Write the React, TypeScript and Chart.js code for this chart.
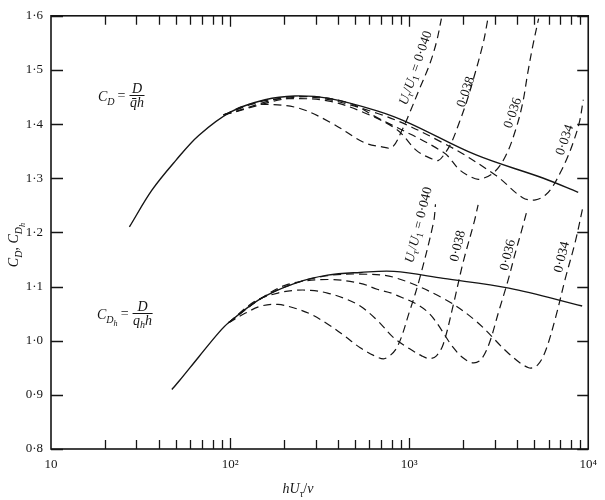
import React, { useEffect, useRef } from 'react';
import { Chart, registerables } from 'chart.js';

Chart.register(...registerables);

const FONT = '"Liberation Serif", "DejaVu Serif", serif';
const INK = '#151515';

// ---------- Upper family: C_D = D / (q̄ h) ----------
const cdX = [27.4, 36.6, 49.8, 66.8, 101.6, 156.7, 229.6, 350, 662, 1000, 2366, 5623, 8790];
const cdY = [1.21, 1.278, 1.333, 1.379, 1.423, 1.445, 1.452, 1.448, 1.4245, 1.402, 1.343, 1.3, 1.274];

const cd040X = [92, 126, 149, 239, 364, 561, 705, 802, 910, 1007, 1145, 1300, 1422, 1514];
const cd040Y = [1.417, 1.436, 1.437, 1.43, 1.403, 1.366, 1.358, 1.357, 1.388, 1.421, 1.466, 1.51, 1.552, 1.595];

const cd038X = [92, 149, 239, 364, 561, 853, 1101, 1334, 1459, 1553, 1722, 1905, 2083, 2275, 2588, 2754];
const cd038Y = [1.417, 1.442, 1.447, 1.442, 1.421, 1.39, 1.351, 1.336, 1.333, 1.342, 1.366, 1.403, 1.439, 1.481, 1.549, 1.595];

const cd036X = [92, 239, 452, 662, 1552, 1905, 2193, 2460, 2979, 3467, 3936, 4305, 4592, 4898, 5284];
const cd036Y = [1.417, 1.45, 1.44, 1.412, 1.348, 1.316, 1.303, 1.298, 1.311, 1.342, 1.39, 1.439, 1.494, 1.544, 1.595];

const cd034X = [92, 239, 662, 1614, 3055, 4305, 5080, 5770, 6310, 7000, 7640, 8240, 8920, 9380];
const cd034Y = [1.417, 1.451, 1.42, 1.362, 1.305, 1.264, 1.26, 1.269, 1.284, 1.311, 1.338, 1.366, 1.403, 1.445];

// ---------- Lower family: C_Dh = D / (q_h h) ----------
const chX = [47.3, 51.8, 66.8, 86, 98, 149, 230, 350, 533, 822, 1552, 3606, 9250];
const chY = [0.91, 0.925, 0.97, 1.014, 1.033, 1.078, 1.106, 1.121, 1.126, 1.128, 1.115, 1.097, 1.064];

const ch040X = [98, 122, 149, 185, 230, 282, 350, 435, 533, 662, 733, 853, 1007, 1145, 1369, 1403];
const ch040Y = [1.033, 1.051, 1.064, 1.067, 1.06, 1.049, 1.031, 1.009, 0.987, 0.97, 0.967, 0.987, 1.055, 1.115, 1.219, 1.252];

const ch038X = [98, 138, 185, 230, 282, 350, 435, 533, 662, 822, 1007, 1175, 1300, 1420, 1552, 1766, 2006, 2306, 2427];
const ch038Y = [1.033, 1.073, 1.088, 1.093, 1.093, 1.088, 1.078, 1.064, 1.038, 1.005, 0.985, 0.972, 0.967, 0.972, 0.994, 1.067, 1.146, 1.219, 1.251];

const ch036X = [98, 149, 210, 350, 533, 662, 822, 1250, 1766, 2006, 2275, 2515, 2793, 3170, 3556, 3936, 4260, 4530];
const ch036Y = [1.033, 1.078, 1.104, 1.113, 1.106, 1.095, 1.086, 1.055, 0.987, 0.968, 0.959, 0.965, 0.994, 1.055, 1.11, 1.165, 1.205, 1.238];

const ch034X = [98, 149, 230, 350, 533, 822, 1552, 2366, 3606, 4645, 5210, 5770, 6560, 7450, 8470, 9380];
const ch034Y = [1.033, 1.078, 1.106, 1.12, 1.123, 1.117, 1.078, 1.036, 0.976, 0.95, 0.955, 0.981, 1.042, 1.115, 1.183, 1.25];

// ---------- Axes ----------
const yTicks = [0.8, 0.9, 1.0, 1.1, 1.2, 1.3, 1.4, 1.5, 1.6];
const xDecades = [10, 100, 1000, 10000];
const xDecadeLabels = ['10', '10²', '10³', '10⁴'];
const xMinorTicks = [
  20, 30, 40, 50, 60, 70, 80, 90, 100,
  200, 300, 400, 500, 600, 700, 800, 900, 1000,
  2000, 3000, 4000, 5000, 6000, 7000, 8000, 9000,
];

const upperLabels = ['0·040', '0·038', '0·036', '0·034'];
const lowerLabels = ['0·040', '0·038', '0·036', '0·034'];

type Seg = { t: string; italic?: boolean; lvl?: number };

function segFont(s: Seg, size: number) {
  const lvl = s.lvl || 0;
  const fs = lvl === 0 ? size : lvl === 1 || lvl === -1 ? size * 0.72 : size * 0.58;
  return `${s.italic ? 'italic ' : ''}${fs}px ${FONT}`;
}

function measureRich(ctx: CanvasRenderingContext2D, segs: Seg[], size: number) {
  let total = 0;
  for (const s of segs) {
    ctx.font = segFont(s, size);
    total += ctx.measureText(s.t).width;
  }
  return total;
}

function drawRich(ctx: CanvasRenderingContext2D, segs: Seg[], x: number, y: number, size: number, align: 'left' | 'center' | 'right' = 'left') {
  const total = measureRich(ctx, segs, size);
  let cx = align === 'center' ? x - total / 2 : align === 'right' ? x - total : x;
  for (const s of segs) {
    const lvl = s.lvl || 0;
    const dy = lvl === 1 ? size * 0.28 : lvl === 2 ? size * 0.48 : lvl === -1 ? -size * 0.4 : 0;
    ctx.font = segFont(s, size);
    ctx.fillText(s.t, cx, y + dy);
    cx += ctx.measureText(s.t).width;
  }
  return total;
}

function drawRotated(ctx: CanvasRenderingContext2D, segs: Seg[], cx: number, cy: number, angleDeg: number, size: number) {
  ctx.save();
  ctx.translate(cx, cy);
  ctx.rotate((angleDeg * Math.PI) / 180);
  ctx.textBaseline = 'middle';
  drawRich(ctx, segs, 0, 0, size, 'center');
  ctx.restore();
}

function drawFormula(ctx: CanvasRenderingContext2D, lhs: Seg[], den: Seg[], x: number, base: number, size: number) {
  const lw = drawRich(ctx, lhs, x, base, size);
  const ex = x + lw + 3;
  const ew = drawRich(ctx, [{ t: '=' }], ex, base - 1, size);
  const bx = ex + ew + 4;
  const by = base - 5.5;
  const num: Seg[] = [{ t: 'D', italic: true }];
  const w = Math.max(measureRich(ctx, num, size), measureRich(ctx, den, size)) + 1;
  drawRich(ctx, num, bx + w / 2, by - 3, size, 'center');
  drawRich(ctx, den, bx + w / 2, by + 11, size, 'center');
  ctx.lineWidth = 1;
  ctx.beginPath();
  ctx.moveTo(bx, by);
  ctx.lineTo(bx + w, by);
  ctx.stroke();
}

const decoPlugin = {
  id: 'deco',
  afterDraw(chart: any) {
    const ctx: CanvasRenderingContext2D = chart.ctx;
    const xs = chart.scales.x;
    const ys = chart.scales.y;
    const { left, right, top, bottom } = chart.chartArea;
    ctx.save();
    ctx.strokeStyle = INK;
    ctx.fillStyle = INK;
    ctx.lineWidth = 1.6;
    ctx.strokeRect(left, top, right - left, bottom - top);
    ctx.lineWidth = 1.3;
    ctx.beginPath();
    for (const v of xMinorTicks) {
      const px = Math.round(xs.getPixelForValue(v)) + 0.5;
      const len = xDecades.includes(v) ? 11 : 9;
      ctx.moveTo(px, bottom);
      ctx.lineTo(px, bottom - len);
      ctx.moveTo(px, top);
      ctx.lineTo(px, top + len);
    }
    for (const v of yTicks) {
      const py = Math.round(ys.getPixelForValue(v)) + 0.5;
      ctx.moveTo(left, py);
      ctx.lineTo(left + 12, py);
      ctx.moveTo(right, py);
      ctx.lineTo(right - 11, py);
    }
    ctx.stroke();

    ctx.textBaseline = 'alphabetic';
    const S = 14;
    drawFormula(ctx, [{ t: 'C', italic: true }, { t: 'D', italic: true, lvl: 1 }], [{ t: 'q\u0304h', italic: true }], 98, 101, S);
    drawFormula(
      ctx,
      [{ t: 'C', italic: true }, { t: 'D', italic: true, lvl: 1 }, { t: 'h', italic: true, lvl: 2 }],
      [{ t: 'q', italic: true }, { t: 'h', italic: true, lvl: 1 }, { t: 'h', italic: true }],
      97, 319, S,
    );

    const uLabel = (v: string): Seg[] => [
      { t: 'U', italic: true }, { t: 'τ', italic: true, lvl: 1 }, { t: '/' },
      { t: 'U', italic: true }, { t: '1', lvl: 1 }, { t: ' = ' + v },
    ];
    const LS = 13.5;
    drawRotated(ctx, uLabel(upperLabels[0]), 416, 68, -71, LS);
    drawRotated(ctx, [{ t: upperLabels[1] }], 466, 92, -71, LS);
    drawRotated(ctx, [{ t: upperLabels[2] }], 513, 113, -71, LS);
    drawRotated(ctx, [{ t: upperLabels[3] }], 565, 140, -71, LS);
    drawRotated(ctx, uLabel(lowerLabels[0]), 419, 225, -76, LS);
    drawRotated(ctx, [{ t: lowerLabels[1] }], 458, 246, -76, LS);
    drawRotated(ctx, [{ t: lowerLabels[2] }], 508, 255, -76, LS);
    drawRotated(ctx, [{ t: lowerLabels[3] }], 562, 257, -76, LS);

    ctx.textBaseline = 'alphabetic';
    drawRich(ctx, [{ t: 'h', italic: true }, { t: 'U', italic: true }, { t: 'τ', italic: true, lvl: 1 }, { t: '/' }, { t: 'ν', italic: true }], 298, 493, 14, 'center');
    ctx.save();
    ctx.translate(18, 245);
    ctx.rotate(-Math.PI / 2);
    drawRich(ctx, [
      { t: 'C', italic: true }, { t: 'D', italic: true, lvl: 1 }, { t: ', ' },
      { t: 'C', italic: true }, { t: 'D', italic: true, lvl: 1 }, { t: 'h', italic: true, lvl: 2 },
    ], 0, 0, 14, 'center');
    ctx.restore();
    ctx.restore();
  },
};

function series(xv: number[], yv: number[], dashed: boolean) {
  return {
    data: xv.map((x, i) => ({ x, y: yv[i] })),
    showLine: true,
    pointRadius: 0,
    borderColor: INK,
    borderWidth: dashed ? 1.2 : 1.4,
    borderDash: dashed ? [8, 5] : [],
    tension: 0.35,
    fill: false,
  };
}

export default function App() {
  const ref = useRef<HTMLCanvasElement | null>(null);
  useEffect(() => {
    document.body.style.margin = '0';
    const canvas = ref.current!;
    const chart = new Chart(canvas, {
      type: 'scatter',
      data: {
        datasets: [
          series(cd040X, cd040Y, true),
          series(cd038X, cd038Y, true),
          series(cd036X, cd036Y, true),
          series(cd034X, cd034Y, true),
          series(ch040X, ch040Y, true),
          series(ch038X, ch038Y, true),
          series(ch036X, ch036Y, true),
          series(ch034X, ch034Y, true),
          series(cdX, cdY, false),
          series(chX, chY, false),
        ] as any,
      },
      options: {
        responsive: false,
        animation: false,
        layout: { padding: { top: 12, right: 13, left: 0, bottom: 0 } },
        plugins: { legend: { display: false }, tooltip: { enabled: false } },
        scales: {
          x: {
            type: 'logarithmic',
            min: 10,
            max: 10000,
            grid: { display: false, drawTicks: false },
            border: { display: false },
            afterBuildTicks: (s: any) => {
              s.ticks = xDecades.map((v) => ({ value: v }));
            },
            afterFit: (s: any) => {
              s.height = 51;
            },
            ticks: {
              autoSkip: false,
              maxRotation: 0,
              padding: 8,
              color: INK,
              font: { family: FONT, size: 13 },
              callback: (v: any) => {
                const i = xDecades.indexOf(Number(v));
                return i >= 0 ? xDecadeLabels[i] : '';
              },
            },
          },
          y: {
            min: 0.8,
            max: 1.6,
            grid: { display: false, drawTicks: false },
            border: { display: false },
            afterBuildTicks: (s: any) => {
              s.ticks = yTicks.map((v) => ({ value: v }));
            },
            afterFit: (s: any) => {
              s.width = 51;
            },
            ticks: {
              padding: 8,
              color: INK,
              font: { family: FONT, size: 13 },
              callback: (v: any) => Number(v).toFixed(1).replace('.', '·'),
            },
          },
        },
      } as any,
      plugins: [decoPlugin],
    });
    return () => chart.destroy();
  }, []);
  return (
    <div style={{ position: 'absolute', left: 0, top: 0, width: 605, height: 500, background: '#fff' }}>
      <canvas ref={ref} width={605} height={500} style={{ display: 'block' }} />
    </div>
  );
}
